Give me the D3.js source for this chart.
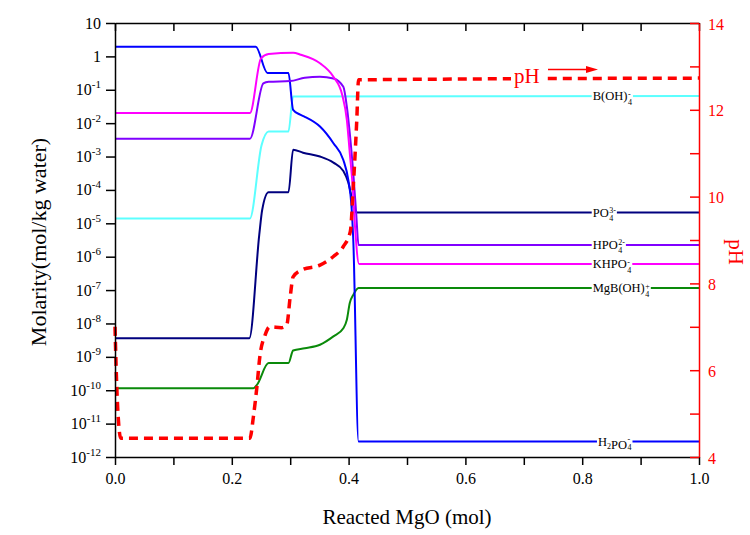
<!DOCTYPE html>
<html>
<head>
<meta charset="utf-8">
<script src="https://cdn.jsdelivr.net/npm/d3@7"></script>
<style>
body{margin:0;background:#fff}
svg{display:block}
text{font-family:"Liberation Serif","Times New Roman",serif}
</style>
</head>
<body>
<svg id="chart" width="750" height="535" font-family="Liberation Serif"></svg>
<script>
// reacted MgO (mol) -> molality (mol/kg water)
var h2po4 = [[0,1.95],[0.241,1.95],[0.261,0.32],[0.297,0.32],[0.305,0.025],[0.317,0.018],[0.325,0.0155],[0.351,7.9e-3],[0.374,2.5e-3],[0.391,7.9e-4],[0.3995,2.0e-4],[0.405,3.2e-5],[0.408,3.2e-6],[0.417,2.9e-12],[1,2.9e-12]];
var khpo4 = [[0,0.02],[0.231,0.02],[0.250,0.87],[0.263,1.17],[0.305,1.29],[0.318,1.12],[0.351,0.62],[0.374,0.245],[0.389,0.071],[0.397,0.0126],[0.402,1.29e-3],[0.407,1.26e-4],[0.411,7.9e-6],[0.418,6.0e-7],[1,6.0e-7]];
var hpo4 = [[0,3.4e-3],[0.231,3.4e-3],[0.254,0.155],[0.263,0.174],[0.300,0.182],[0.325,0.229],[0.351,0.245],[0.374,0.219],[0.391,0.123],[0.397,0.031],[0.402,5.0e-3],[0.408,3.2e-4],[0.413,2.0e-5],[0.417,2.24e-6],[1,2.24e-6]];
var boh4 = [[0,1.4e-5],[0.231,1.4e-5],[0.251,2.2e-3],[0.263,5.6e-3],[0.297,5.6e-3],[0.305,0.063],[1,0.065]];
var po4 = [[0,3.6e-9],[0.230,3.6e-9],[0.247,4.5e-6],[0.252,2.5e-5],[0.263,8.5e-5],[0.297,8.5e-5],[0.305,1.6e-3],[0.322,1.3e-3],[0.351,1.0e-3],[0.374,6.6e-4],[0.391,3.7e-4],[0.3995,1.66e-4],[0.405,6.3e-5],[0.410,2.5e-5],[0.415,2.1e-5],[1,2.1e-5]];
var mgboh4 = [[0,1.15e-10],[0.237,1.15e-10],[0.243,1.45e-10],[0.263,6.5e-10],[0.297,6.5e-10],[0.305,1.55e-9],[0.325,1.8e-9],[0.351,2.3e-9],[0.374,4.1e-9],[0.391,7.2e-9],[0.397,1.29e-8],[0.402,4.1e-8],[0.408,7.2e-8],[0.417,1.15e-7],[1,1.15e-7]];
var ph = [[0,7.0],[0.004,5.3],[0.01,4.43],[0.231,4.43],[0.237,4.93],[0.243,5.62],[0.248,6.31],[0.257,6.81],[0.265,7.0],[0.285,6.98],[0.294,7.04],[0.300,7.69],[0.305,8.15],[0.320,8.31],[0.351,8.42],[0.374,8.62],[0.391,8.85],[0.403,9.2],[0.408,10.23],[0.414,11.76],[0.417,12.69],[1,12.73]];

var xTicks = [0,0.1,0.2,0.3,0.4,0.5,0.6,0.7,0.8,0.9,1.0];
var yExps = [1,0,-1,-2,-3,-4,-5,-6,-7,-8,-9,-10,-11,-12];
var phTicks = [4,5,6,7,8,9,10,11,12,13,14];

var svg = d3.select("#chart");
var L = 115, R = 699, T = 23, B = 457;

var x = d3.scaleLinear().domain([0,1]).range([L,R]);
var y = d3.scaleLog().domain([1e-12,10]).range([B,T]);
var yPh = d3.scaleLinear().domain([4,14]).range([B,T]);

var line = d3.line().curve(d3.curveMonotoneX)
	.x(function(d){return x(d[0]);}).y(function(d){return y(d[1]);});
var phLine = d3.line().curve(d3.curveMonotoneX)
	.x(function(d){return x(d[0]);}).y(function(d){return yPh(d[1]);});

var series = [
	{data: boh4, color: "#5cffff"},
	{data: mgboh4, color: "#0a8a0a"},
	{data: po4, color: "#00007f"},
	{data: h2po4, color: "#0000ff"},
	{data: hpo4, color: "#8000ff"},
	{data: khpo4, color: "#ff00ff"}
];

series.forEach(function(s){
	svg.append("path")
		.attr("d", line(s.data))
		.attr("fill", "none")
		.attr("stroke", s.color)
		.attr("stroke-width", 2);
});

svg.append("path")
	.attr("d", phLine(ph))
	.attr("fill", "none")
	.attr("stroke", "#ff0000")
	.attr("stroke-width", 3.5)
	.attr("stroke-dasharray", "9,6");

// species labels sitting on the lines; parts are [text, isSubscript]
function chemLabel(parts, sub, sup, xv, yv){
	var px = x(xv), py = y(yv);
	var g = svg.append("g");
	var bg = g.append("rect").attr("fill", "#fff");
	var t = g.append("text").attr("x", px).attr("y", py + 4).attr("font-size", 12.5);
	parts.forEach(function(p){
		if (p[1]) {
			t.append("tspan").attr("dy", 3).attr("font-size", 8).text(p[0]);
			t.append("tspan").attr("dy", -3).text("");
		} else {
			t.append("tspan").text(p[0]);
		}
	});
	var w = t.node().getComputedTextLength();
	var a = g.append("text").attr("x", px + w + 0.5).attr("y", py + 0.5).attr("font-size", 8).text(sup);
	var b = g.append("text").attr("x", px + w + 0.5).attr("y", py + 8.5).attr("font-size", 8).text(sub);
	var w2 = Math.max(a.node().getComputedTextLength(), b.node().getComputedTextLength());
	bg.attr("x", px - 1).attr("y", py - 4).attr("width", w + w2 + 2.5).attr("height", 8);
}

chemLabel([["B(OH)"]], "4", "-", 0.818, boh4[boh4.length-1][1]);
chemLabel([["PO"]], "4", "3-", 0.818, po4[po4.length-1][1]);
chemLabel([["HPO"]], "4", "2-", 0.818, hpo4[hpo4.length-1][1]);
chemLabel([["KHPO"]], "4", "-", 0.818, khpo4[khpo4.length-1][1]);
chemLabel([["MgB(OH)"]], "4", "+", 0.818, mgboh4[mgboh4.length-1][1]);
chemLabel([["H"], ["2", true], ["PO"]], "4", "-", 0.827, h2po4[h2po4.length-1][1]);

// pH marker with arrow
var phY = yPh(ph[ph.length-1][1]);
svg.append("rect").attr("x", 511).attr("y", phY - 4).attr("width", 35).attr("height", 8).attr("fill", "#fff");
svg.append("text").attr("x", 514).attr("y", phY + 5).attr("font-size", 21).attr("fill", "#ff0000").text("pH");
svg.append("line").attr("x1", 548).attr("x2", 588).attr("y1", phY - 8.5).attr("y2", phY - 8.5)
	.attr("stroke", "#ff0000").attr("stroke-width", 1.5);
svg.append("path").attr("d", "M586," + (phY - 12) + "L598," + (phY - 8.5) + "L586," + (phY - 5) + "Z").attr("fill", "#ff0000");

// axes
var bottomAxis = svg.append("g").attr("transform", "translate(0," + B + ")")
	.call(d3.axisBottom(x).tickValues(xTicks).tickSize(8).tickSizeOuter(0)
		.tickFormat(function(d){ return Math.round(d*10) % 2 === 0 ? d.toFixed(1) : ""; }));
bottomAxis.selectAll("text").attr("font-size", 16).attr("dy", "1em").attr("y", 11).attr("fill", "#000");

var topAxis = svg.append("g").attr("transform", "translate(0," + T + ")")
	.call(d3.axisBottom(x).tickValues(xTicks).tickSize(8).tickSizeOuter(0).tickFormat(""));

var leftAxis = svg.append("g").attr("transform", "translate(" + L + ",0)")
	.call(d3.axisLeft(y).tickValues(yExps.map(function(e){return Math.pow(10, e);})).tickSize(9).tickSizeOuter(0).tickFormat(""));
leftAxis.selectAll(".tick").each(function(d){
	var e = Math.round(Math.log10(d));
	var t = d3.select(this).append("text").attr("x", -14).attr("y", 5)
		.attr("text-anchor", "end").attr("font-size", 16).attr("fill", "#000");
	if (e === 1) t.text("10");
	else if (e === 0) t.text("1");
	else {
		t.append("tspan").text("10");
		t.append("tspan").attr("dy", -7).attr("font-size", 11).text(e);
	}
});

var rightAxis = svg.append("g").attr("transform", "translate(" + R + ",0)")
	.call(d3.axisLeft(yPh).tickValues(phTicks).tickSize(9).tickSizeOuter(0).tickFormat(""));
rightAxis.selectAll("line").attr("stroke", "#ff0000");
rightAxis.select(".domain").attr("stroke", "#ff0000");
rightAxis.selectAll(".tick").filter(function(d){ return d % 2 === 0; })
	.append("text").attr("x", 9).attr("y", 6).attr("font-size", 16).attr("fill", "#ff0000")
	.attr("text-anchor", "start").text(function(d){ return d; });

[bottomAxis, topAxis, leftAxis, rightAxis].forEach(function(a){
	a.selectAll(".domain, line").attr("stroke-width", 1.5);
	a.attr("font-family", "Liberation Serif");
});

// titles
svg.append("text").attr("x", (L + R) / 2).attr("y", 524).attr("text-anchor", "middle")
	.attr("font-family", "Liberation Serif").attr("font-size", 21).text("Reacted MgO (mol)");
svg.append("text").attr("transform", "translate(46," + ((T + B) / 2 + 2) + ") rotate(-90)")
	.attr("text-anchor", "middle").attr("font-size", 22).text("Molarity(mol/kg water)");
svg.append("text").attr("transform", "translate(729,252) rotate(90)")
	.attr("text-anchor", "middle").attr("font-size", 21).attr("fill", "#ff0000").text("pH");
</script>
</body>
</html>
